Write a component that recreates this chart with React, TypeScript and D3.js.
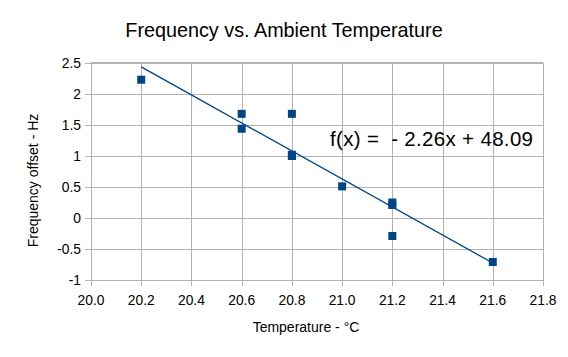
import React from "react";
import * as d3 from "d3";

const temps = [20.2, 20.6, 20.6, 20.8, 20.8, 20.8, 21.0, 21.2, 21.2, 21.2, 21.6];
const offsets = [2.23, 1.68, 1.44, 1.68, 1.02, 1.0, 0.51, 0.25, 0.21, -0.29, -0.71];
const xTicks = [20.0, 20.2, 20.4, 20.6, 20.8, 21.0, 21.2, 21.4, 21.6, 21.8];
const yTicks = [2.5, 2, 1.5, 1, 0.5, 0, -0.5, -1];
const slope = -2.26;
const intercept = 48.09;
const title = "Frequency vs. Ambient Temperature";
const xLabel = "Temperature - °C";
const yLabel = "Frequency offset - Hz";
const eqLabel = "f(x) =  - 2.26x + 48.09";

const W = 568;
const H = 357;
const left = 91;
const right = 543;
const top = 63;
const bottom = 280;
const color = "#004586";
const grid = "#b3b3b3";
const font = "'Liberation Sans', Arial, sans-serif";

export default function App() {
  const x = d3.scaleLinear().domain([20.0, 21.8]).range([left, right]);
  const y = d3.scaleLinear().domain([-1, 2.5]).range([bottom, top]);
  const xMin = d3.min(temps) as number;
  const xMax = d3.max(temps) as number;
  const trend = d3
    .line<number>()
    .x((d) => x(d))
    .y((d) => y(slope * d + intercept));
  return (
    <svg
      width={W}
      height={H}
      style={{ position: "absolute", left: 0, top: 0, background: "#fff" }}
      fontFamily={font}
    >
      <rect x={0} y={0} width={W} height={H} fill="#fff" />
      {yTicks.map((t) => (
        <g key={"y" + t}>
          <line x1={left - 6} x2={right} y1={Math.round(y(t)) + 0.5} y2={Math.round(y(t)) + 0.5} stroke={grid} strokeWidth={1} />
          <text x={left - 10} y={y(t)} dy="0.36em" textAnchor="end" fontSize={13.8} fill="#000">
            {String(t)}
          </text>
        </g>
      ))}
      {xTicks.map((t) => (
        <g key={"x" + t}>
          <line x1={Math.round(x(t)) + 0.5} x2={Math.round(x(t)) + 0.5} y1={top} y2={bottom + 6} stroke={grid} strokeWidth={1} />
          <text x={x(t)} y={bottom + 24.5} textAnchor="middle" fontSize={13.8} fill="#000">
            {t.toFixed(1)}
          </text>
        </g>
      ))}
      <line x1={left} x2={right} y1={top} y2={top} stroke={grid} strokeWidth={2} />
      <path d={trend([xMin, xMax]) || ""} fill="none" stroke={color} strokeWidth={1.3} />
      {temps.map((t, i) => (
        <rect key={"p" + i} x={x(t) - 4} y={y(offsets[i]) - 4} width={8} height={8} fill={color} />
      ))}
      <text x={W / 2} y={37} textAnchor="middle" fontSize={19.8} fill="#000">
        {title}
      </text>
      <text x={330} y={146} fontSize={20.5} fill="#000" textLength={203} lengthAdjust="spacing" style={{ whiteSpace: "pre" }}>
        {eqLabel}
      </text>
      <text x={306} y={332} textAnchor="middle" fontSize={14} fill="#000">
        {xLabel}
      </text>
      <text transform={`translate(38,180.5) rotate(-90)`} textAnchor="middle" fontSize={14} fill="#000">
        {yLabel}
      </text>
    </svg>
  );
}
